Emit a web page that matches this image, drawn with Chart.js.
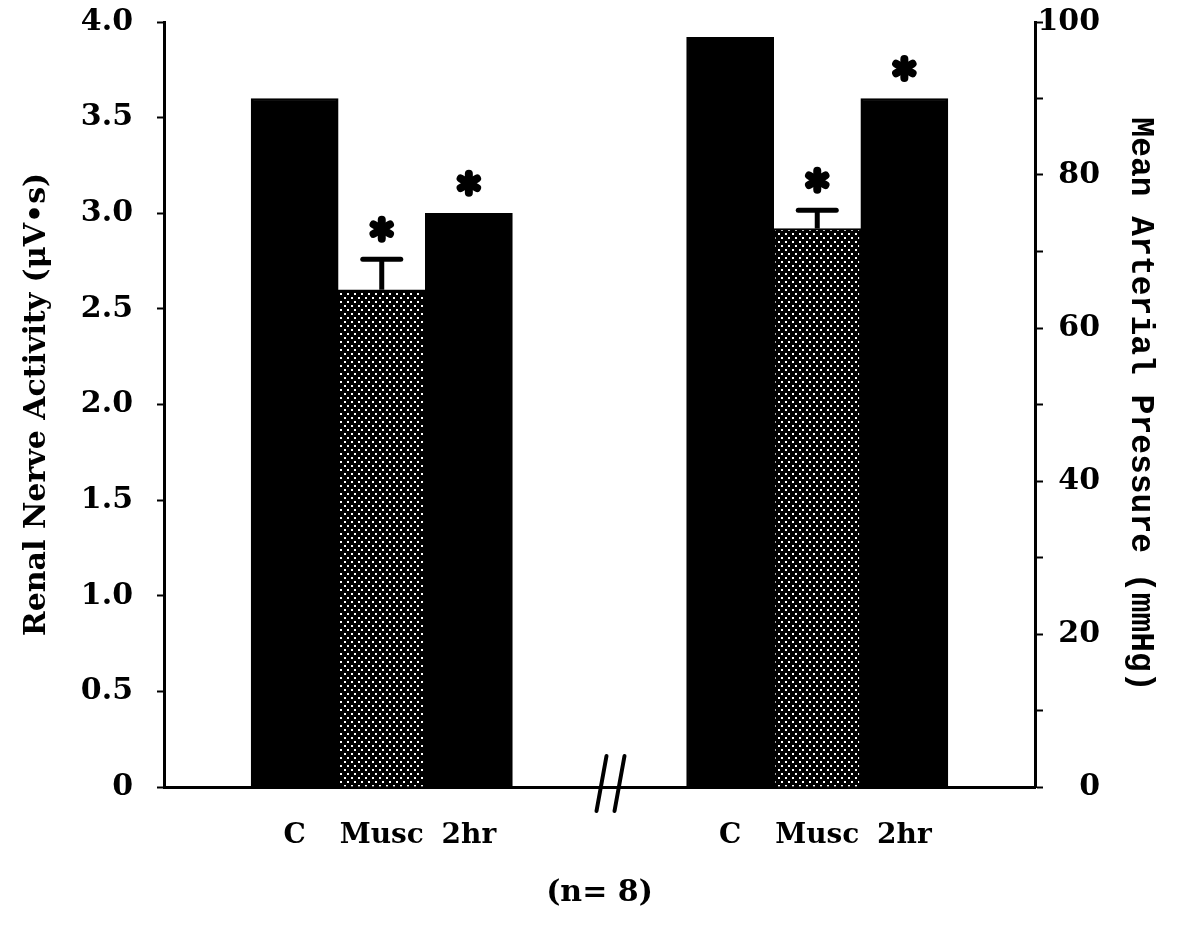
<!DOCTYPE html>
<html>
<head>
<meta charset="utf-8">
<script src="https://cdn.jsdelivr.net/npm/chart.js@4/dist/chart.umd.min.js"></script>
<style>
  html, body { margin: 0; padding: 0; background: #fff; }
  #wrap { width: 1180px; height: 928px; }
</style>
</head>
<body>
<div id="wrap"><canvas id="c" width="1180" height="928"></canvas></div>
<script>
// ---- data ----
const groupLabels = ['C', 'Musc', '2hr'];
const rnaValues = [3.6, 2.6, 3.0];        // renal nerve activity, µV·s (left axis)
const rnaSem = [null, 0.16, null];
const rnaSig = [false, true, true];
const mapValues = [98, 73, 90];           // mean arterial pressure, mmHg (right axis)
const mapSem = [null, 2.4, null];
const mapSig = [false, true, true];
const leftTickLabels = ['0', '0.5', '1.0', '1.5', '2.0', '2.5', '3.0', '3.5', '4.0'];
const rightTickLabels = ['0', '', '20', '', '40', '', '60', '', '80', '', '100'];
const leftTitle = 'Renal Nerve Activity (\u03bcV\u2022s)';
const rightTitle = 'Mean Arterial Pressure (mmHg)';
const sampleNote = '(n= 8)';

// ---- category slots: blank | left group | axis break | right group | blank ----
const gap = ['', ''];
const xLabels = [''].concat(groupLabels, gap, groupLabels, ['']);
const leftStart = 1;
const rightStart = leftStart + groupLabels.length + gap.length;
const blanks = n => new Array(n).fill(null);
const leftData = blanks(leftStart).concat(rnaValues, blanks(xLabels.length - leftStart - rnaValues.length));
const rightData = blanks(rightStart).concat(mapValues, blanks(xLabels.length - rightStart - mapValues.length));

// dotted fill for the muscimol bars
function dotTile() {
  const t = document.createElement('canvas');
  t.width = 7; t.height = 8;
  const g = t.getContext('2d');
  g.fillStyle = '#000'; g.fillRect(0, 0, 7, 8);
  g.fillStyle = '#fff';
  g.fillRect(1, 1, 2, 2);
  g.fillRect(4, 5, 2, 2);
  return t;
}
const ctx0 = document.getElementById('c').getContext('2d');
const dots = ctx0.createPattern(dotTile(), 'repeat');
const barColors = xLabels.map(l => l === 'Musc' ? dots : '#000');

const SERIF = "'DejaVu Serif', serif";

function drawAsterisk(ctx, x, y) {
  ctx.save();
  ctx.strokeStyle = '#000';
  ctx.fillStyle = '#000';
  ctx.lineWidth = 8;
  ctx.lineCap = 'round';
  for (let k = 0; k < 6; k++) {
    const a = -Math.PI / 2 + k * Math.PI / 3;
    ctx.beginPath();
    ctx.moveTo(x, y);
    ctx.lineTo(x + 9.5 * Math.cos(a), y + 9.5 * Math.sin(a));
    ctx.stroke();
  }
  ctx.beginPath(); ctx.arc(x, y, 6, 0, 2 * Math.PI); ctx.fill();
  ctx.restore();
}

const annotations = {
  id: 'annotations',
  afterDatasetsDraw(chart) {
    const ctx = chart.ctx;
    const groups = [
      { meta: chart.getDatasetMeta(0), scale: chart.scales.y, vals: rnaValues, sem: rnaSem, sig: rnaSig, start: leftStart },
      { meta: chart.getDatasetMeta(1), scale: chart.scales.y1, vals: mapValues, sem: mapSem, sig: mapSig, start: rightStart }
    ];
    ctx.save();
    ctx.strokeStyle = '#000';
    groups.forEach(g => {
      g.vals.forEach((v, j) => {
        const el = g.meta.data[g.start + j];
        if (!el) return;
        const x = el.x;
        let topY = g.scale.getPixelForValue(v);
        if (g.sem[j] != null) {
          const capY = g.scale.getPixelForValue(v + g.sem[j]);
          ctx.lineCap = 'butt';
          ctx.lineWidth = 5;
          ctx.beginPath(); ctx.moveTo(x, topY); ctx.lineTo(x, capY); ctx.stroke();
          ctx.lineCap = 'round';
          ctx.lineWidth = 5;
          ctx.beginPath(); ctx.moveTo(x - 19, capY); ctx.lineTo(x + 19, capY); ctx.stroke();
          topY = capY;
        }
        if (g.sig[j]) drawAsterisk(ctx, x, topY - 30);
      });
    });
    // axis break marks between the two groups
    const xs = chart.scales.x;
    const mid = (xs.getPixelForValue(leftStart + groupLabels.length - 1) + xs.getPixelForValue(rightStart)) / 2 + 11;
    const base = xs.top;
    ctx.lineCap = 'round';
    ctx.lineWidth = 4;
    [-9, 9].forEach(d => {
      ctx.beginPath();
      ctx.moveTo(mid + d + 5, base - 31);
      ctx.lineTo(mid + d - 5, base + 24);
      ctx.stroke();
    });
    ctx.restore();
  }
};

new Chart(document.getElementById('c'), {
  type: 'bar',
  data: {
    labels: xLabels,
    datasets: [
      { label: 'Renal nerve activity', data: leftData, yAxisID: 'y', backgroundColor: barColors, borderColor: '#000', borderWidth: 2, borderSkipped: 'start' },
      { label: 'Mean arterial pressure', data: rightData, yAxisID: 'y1', backgroundColor: barColors, borderColor: '#000', borderWidth: 2, borderSkipped: 'start' }
    ]
  },
  options: {
    responsive: false,
    animation: false,
    layout: { padding: { top: 22, left: 0, right: 0, bottom: 0 } },
    plugins: { legend: { display: false }, tooltip: { enabled: false } },
    datasets: { bar: { categoryPercentage: 1, barPercentage: 1, grouped: false } },
    scales: {
      x: {
        type: 'category',
        offset: true,
        grid: { display: false },
        border: { display: true, color: '#000', width: 3 },
        ticks: { autoSkip: false, maxRotation: 0, color: '#000', padding: 24, font: { family: SERIF, size: 28, weight: 'bold' } },
        title: { display: true, text: sampleNote, color: '#000', font: { family: SERIF, size: 30, weight: 'bold' }, padding: { top: 0, bottom: 17 } },
        afterFit(s) { s.height = 141; s.paddingLeft = 0; s.paddingRight = 0; }
      },
      y: {
        position: 'left',
        min: 0, max: 4,
        grid: { drawOnChartArea: false, drawTicks: true, tickLength: 7, tickWidth: 2, tickColor: '#000' },
        border: { display: true, color: '#000', width: 3 },
        ticks: { stepSize: 0.5, autoSkip: false, color: '#000', padding: 24, font: { family: SERIF, size: 30, weight: 'bold' }, callback: (v, i) => leftTickLabels[i] },
        title: { display: true, text: leftTitle, color: '#000', font: { family: SERIF, size: 30, weight: 'bold' }, padding: { top: 19, bottom: 0 } },
        afterFit(s) { s.width = 164; s.paddingTop = 0; s.paddingBottom = 0; }
      },
      y1: {
        position: 'right',
        weight: 0,
        min: 0, max: 100,
        grid: { drawOnChartArea: false, drawTicks: true, tickLength: 8, tickWidth: 2, tickColor: '#000' },
        border: { display: true, color: '#000', width: 3 },
        ticks: { stepSize: 10, autoSkip: false, crossAlign: 'far', color: '#000', font: { family: SERIF, size: 30, weight: 'bold' }, callback: (v, i) => rightTickLabels[i] },
        afterFit(s) { s.width = 65; s.paddingTop = 0; s.paddingBottom = 0; }
      },
      y2: {
        position: 'right',
        weight: 1,
        min: 0, max: 1,
        grid: { display: false },
        border: { display: false },
        ticks: { display: false },
        title: { display: true, text: rightTitle, color: '#000', font: { family: "'Liberation Mono', monospace", size: 33, weight: 'bold' }, padding: { top: 20, bottom: 0 } },
        afterFit(s) { s.width = 80; s.paddingTop = 0; s.paddingBottom = 0; }
      }
    }
  },
  plugins: [annotations]
});
</script>
</body>
</html>
